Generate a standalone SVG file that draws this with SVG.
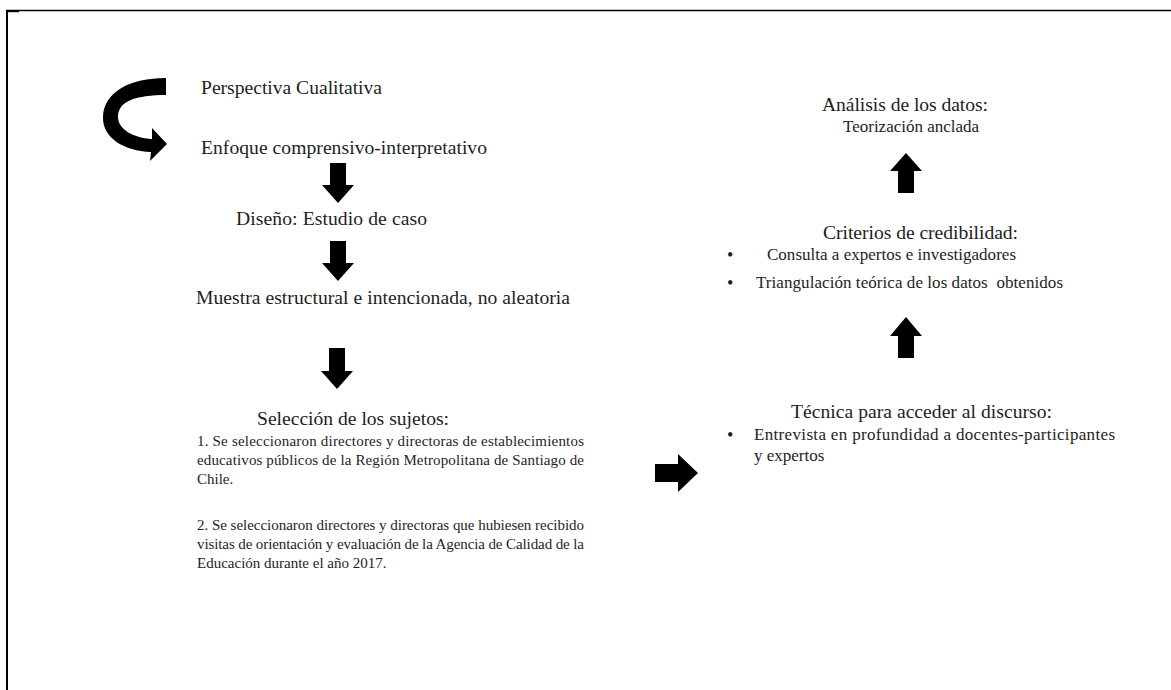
<svg xmlns="http://www.w3.org/2000/svg" width="1171" height="690" viewBox="0 0 1171 690" font-family="'Liberation Serif', 'Times New Roman', 'DejaVu Serif', serif">
<style>
  text { font-family: "Liberation Serif", "Times New Roman", "DejaVu Serif", serif; fill: #1e1e1e; }
  .h { font-size: 19.6px; }
  .s { font-size: 17px; }
  .p { font-size: 15px; }
  .b { font-size: 18px; }
  .blk { fill: #000; }
  .frame { stroke: #000; fill: none; }
</style>
<rect width="1171" height="690" fill="#fff"/>
<g id="frame">
  <line class="frame" x1="6" y1="10.5" x2="1171" y2="10.5" stroke-width="1.5"/>
  <line class="frame" x1="7" y1="10" x2="7" y2="690" stroke-width="2"/>
  <rect x="6" y="10" width="13" height="2.2" fill="#000"/>
</g>
<g id="connectors">
  <path id="curved-arrow" class="blk" d="M166,78 C130,78 103,92 103,118 C103,138 124,151 151,152 L150,161 L167,144 L152,128 L152,139 C133,138 118,129 118,117 C118,101 136,95 166,95 Z"/>
  <path class="blk" d="M330,163 H346 V185 H354 L338,203 L322,185 H330 Z"/>
  <path class="blk" d="M330,241 H346 V263 H354 L338,281 L322,263 H330 Z"/>
  <path class="blk" d="M329,348 H345 V371 H353 L337,389 L321,371 H329 Z"/>
  <path class="blk" d="M655,464 H678 V454 L698,473 L678,492 V482 H655 Z"/>
  <path class="blk" d="M906,317 L922,336 H914 V358 H898 V336 H890 Z"/>
  <path class="blk" d="M906,153 L922,171 H914 V193 H898 V171 H890 Z"/>
</g>
<g id="perspectiva">
  <text class="h" x="201" y="94" textLength="181">Perspectiva Cualitativa</text>
</g>
<g id="enfoque">
  <text class="h" x="201" y="154" textLength="286">Enfoque comprensivo-interpretativo</text>
</g>
<g id="diseno">
  <text class="h" x="236" y="225" textLength="191">Diseño: Estudio de caso</text>
</g>
<g id="muestra">
  <text class="h" x="196" y="304" textLength="374">Muestra estructural e intencionada, no aleatoria</text>
</g>
<g id="seleccion">
  <text class="h" x="257" y="425" textLength="192">Selección de los sujetos:</text>
  <text class="p" x="197" y="446" textLength="387">1. Se seleccionaron directores y directoras de establecimientos</text>
  <text class="p" x="197" y="465" textLength="387">educativos públicos de la Región Metropolitana de Santiago de</text>
  <text class="p" x="197" y="484">Chile.</text>
  <text class="p" x="197" y="530" textLength="387">2. Se seleccionaron directores y directoras que hubiesen recibido</text>
  <text class="p" x="197" y="549" textLength="387">visitas de orientación y evaluación de la Agencia de Calidad de la</text>
  <text class="p" x="197" y="568">Educación durante el año 2017.</text>
</g>
<g id="analisis">
  <text class="h" x="822" y="111" textLength="166">Análisis de los datos:</text>
  <text class="s" x="843" y="132" textLength="136">Teorización anclada</text>
</g>
<g id="criterios">
  <text class="h" x="823" y="239" textLength="195">Criterios de credibilidad:</text>
  <text class="b" x="727" y="261">•</text>
  <text class="s" x="767" y="260" textLength="249">Consulta a expertos e investigadores</text>
  <text class="b" x="727" y="289">•</text>
  <text class="s" x="756" y="288" textLength="307" xml:space="preserve">Triangulación teórica de los datos  obtenidos</text>
</g>
<g id="tecnica">
  <text class="h" x="791" y="418" textLength="261">Técnica para acceder al discurso:</text>
  <text class="b" x="727" y="441">•</text>
  <text class="s" x="754" y="440" textLength="361">Entrevista en profundidad a docentes-participantes</text>
  <text class="s" x="754" y="461">y expertos</text>
</g>
</svg>
